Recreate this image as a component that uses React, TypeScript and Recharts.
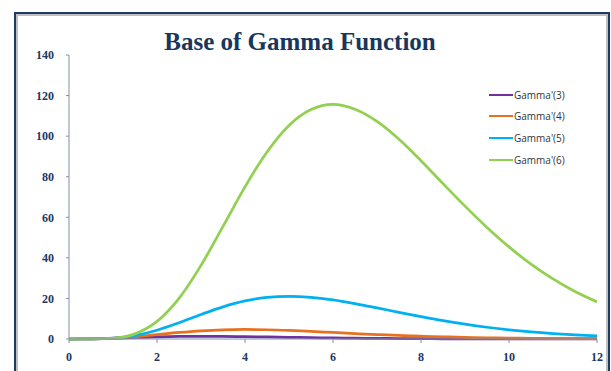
import React from "react";
import { LineChart, Line, XAxis, YAxis } from "recharts";

const xs = [0, 0.5, 1, 1.5, 2, 2.5, 3, 3.5, 4, 4.5, 5, 5.5, 6, 6.5, 7, 7.5, 8, 8.5, 9, 9.5, 10, 10.5, 11, 11.5, 12];
const gamma3 = [0, 0.076, 0.37, 0.75, 1.08, 1.28, 1.34, 1.29, 1.17, 1.01, 0.84, 0.68, 0.54, 0.41, 0.31, 0.23, 0.17, 0.12, 0.09, 0.06, 0.045, 0.03, 0.02, 0.015, 0.01];
const gamma4 = [0, 0.038, 0.37, 1.13, 2.17, 3.21, 4.03, 4.53, 4.69, 4.56, 4.21, 3.74, 3.21, 2.68, 2.19, 1.75, 1.37, 1.06, 0.81, 0.61, 0.45, 0.33, 0.24, 0.18, 0.13];
const gamma5 = [0, 0.019, 0.37, 1.69, 4.33, 8.02, 12.1, 15.86, 18.76, 20.5, 21.06, 20.57, 19.28, 17.44, 15.33, 13.13, 10.99, 9.01, 7.29, 5.79, 4.54, 3.51, 2.69, 2.03, 1.53];
const gamma6 = [0, 0.0095, 0.37, 2.54, 8.66, 20.04, 36.3, 55.5, 75.0, 92.2, 105.3, 113.1, 115.7, 113.3, 107.3, 98.5, 87.9, 76.6, 65.5, 55.0, 45.4, 36.9, 29.6, 23.4, 18.3];
const xTicks = [0, 2, 4, 6, 8, 10, 12];
const yTicks = [0, 20, 40, 60, 80, 100, 120, 140];
const seriesNames = ["Gamma'(3)", "Gamma'(4)", "Gamma'(5)", "Gamma'(6)"];
const seriesColors = ["#7030A0", "#E8701E", "#00B0F0", "#92D050"];
const title = "Base of Gamma Function";

const data = xs.map((x, i) => ({
  x,
  g3: gamma3[i],
  g4: gamma4[i],
  g5: gamma5[i],
  g6: gamma6[i],
}));
const keys = ["g3", "g4", "g5", "g6"];

const axisColor = "#8090AC";
const tickStyle = { fontFamily: "'Liberation Serif', serif", fontWeight: 700, fontSize: 12, fill: "#1F3560" };

export default function App() {
  return (
    <div style={{ position: "absolute", left: 0, top: 0, width: 611, height: 371, background: "#fff", overflow: "hidden" }}>
      <div
        style={{
          position: "absolute",
          left: 14,
          top: 12,
          width: 596,
          height: 400,
          borderLeft: "2px solid #1F3864",
          borderTop: "2px solid #1F3864",
          borderRight: "2px solid #1F3864",
          boxSizing: "border-box",
        }}
      >
        <div
          style={{
            position: "absolute",
            left: 0,
            top: 0,
            right: 0,
            bottom: 0,
            borderLeft: "2px solid #C0C0C0",
            borderTop: "2px solid #C0C0C0",
            borderRight: "2px solid #C0C0C0",
          }}
        />
      </div>
      <div
        style={{
          position: "absolute",
          left: 0,
          width: 600,
          top: 28,
          textAlign: "center",
          fontFamily: "'Liberation Serif', serif",
          fontWeight: 700,
          fontSize: 25,
          color: "#17375E",
          lineHeight: "28px",
        }}
      >
        {title}
      </div>
      <div style={{ position: "absolute", left: 0, top: 0 }}>
        <LineChart width={611} height={371} data={data} margin={{ top: 55, right: 14, bottom: 2, left: 0 }}>
          <XAxis
            dataKey="x"
            type="number"
            domain={[0, 12]}
            ticks={xTicks}
            height={30}
            tickSize={4}
            tickMargin={9}
            tick={tickStyle}
            stroke={axisColor}
            axisLine={{ stroke: axisColor }}
            tickLine={{ stroke: axisColor }}
          />
          <YAxis
            type="number"
            domain={[0, 140]}
            ticks={yTicks}
            width={69}
            tickSize={3}
            tickMargin={12}
            tick={tickStyle}
            stroke={axisColor}
            axisLine={{ stroke: axisColor }}
            tickLine={{ stroke: axisColor }}
          />
          {keys.map((k, i) => (
            <Line
              key={k}
              dataKey={k}
              name={seriesNames[i]}
              type="monotone"
              stroke={seriesColors[i]}
              strokeWidth={2.75}
              dot={false}
              isAnimationActive={false}
            />
          ))}
        </LineChart>
      </div>
      <div style={{ position: "absolute", left: 489, top: 84 }}>
        {seriesNames.map((n, i) => (
          <div key={n} style={{ display: "flex", alignItems: "center", height: 21.6 }}>
            <svg width={24} height={4} style={{ display: "block" }}>
              <line x1={0} y1={2} x2={24} y2={2} stroke={seriesColors[i]} strokeWidth={2} />
            </svg>
            <span style={{ fontFamily: "'Open Sans', sans-serif", fontSize: 10, color: "#333", marginLeft: 1 }}>{n}</span>
          </div>
        ))}
      </div>
    </div>
  );
}
